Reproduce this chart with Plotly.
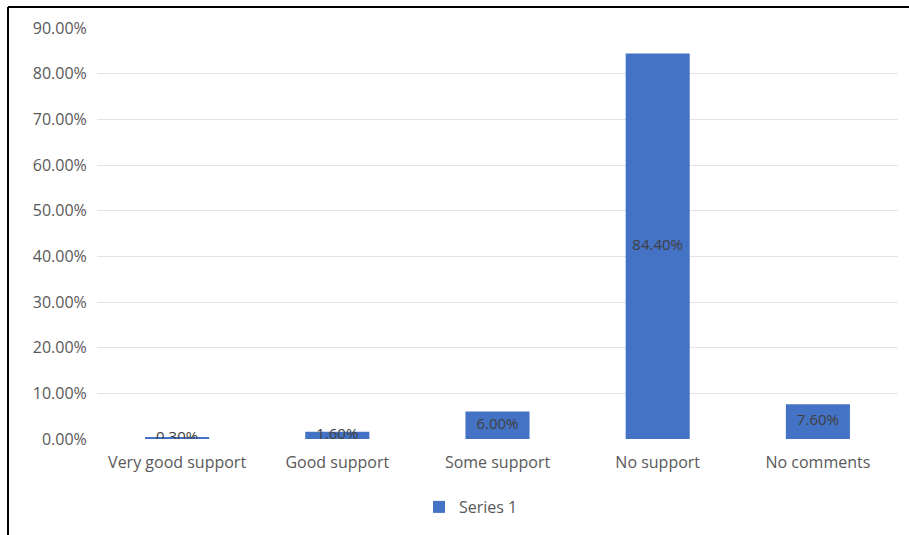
import plotly.graph_objects as go

categories = ["Very good support", "Good support", "Some support", "No support", "No comments"]
values = [0.30, 1.60, 6.00, 84.40, 7.60]
labels = ["0.30%", "1.60%", "6.00%", "84.40%", "7.60%"]
y_ticks = [0, 10, 20, 30, 40, 50, 60, 70, 80, 90]
series_name = "Series 1"

W, H = 909, 535
L, R, T, B = 97, 11, 28, 96
plot_w = W - L - R
plot_h = H - T - B

font_family = "'Open Sans', Lato, sans-serif"

fig = go.Figure()
fig.add_trace(go.Bar(
    x=categories, y=values, name=series_name,
    marker=dict(color="#4472C4", line=dict(width=0)),
    showlegend=True,
))
# value labels centred on each bar
fig.add_trace(go.Scatter(
    x=categories, y=[v / 2 for v in values], mode="text",
    text=labels, textposition="middle center",
    textfont=dict(family=font_family, size=15, color="#404040"),
    showlegend=False, hoverinfo="skip",
))

# outer chart frame (top and left edges)
fx0 = (8 - L) / plot_w
fy1 = 1 + (T - 7) / plot_h
fig.add_shape(type="line", xref="paper", yref="paper",
              x0=fx0, x1=fx0, y0=-1, y1=fy1,
              line=dict(color="black", width=2))
fig.add_shape(type="line", xref="paper", yref="paper",
              x0=fx0, x1=2, y0=fy1, y1=fy1,
              line=dict(color="black", width=2))

fig.update_layout(
    width=W, height=H,
    margin=dict(l=L, r=R, t=T, b=B),
    paper_bgcolor="white", plot_bgcolor="white",
    bargap=0.6,
    font=dict(family=font_family, size=16, color="#595959"),
    xaxis=dict(
        showgrid=False, showline=False, zeroline=False,
        ticks="outside", ticklen=9, tickcolor="rgba(0,0,0,0)",
        tickfont=dict(size=16, color="#595959"),
    ),
    yaxis=dict(
        range=[0, 90], tickvals=y_ticks,
        ticktext=[f"{v:.2f}%" for v in y_ticks],
        showgrid=True, gridcolor="#E3E3E3", gridwidth=1,
        zeroline=False, showline=False,
        ticks="outside", ticklen=6, tickcolor="rgba(0,0,0,0)",
        tickfont=dict(size=16, color="#595959"),
    ),
    legend=dict(
        orientation="h", x=(471 - L) / plot_w, xanchor="center",
        y=(439 - 507) / plot_h, yanchor="middle",
        font=dict(size=16, color="#595959"),
    ),
)

fig.write_html("out.html")
